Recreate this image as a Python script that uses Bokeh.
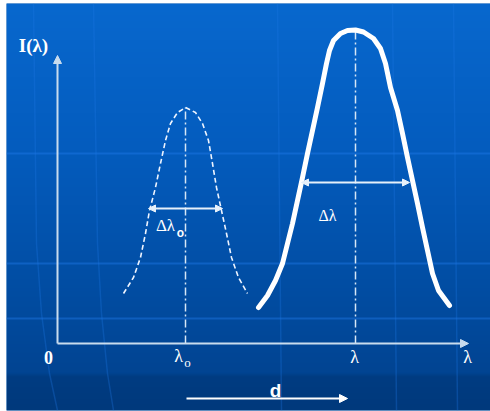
import numpy as np
from bokeh.plotting import figure
from bokeh.models import Range1d, Arrow, NormalHead
from bokeh.core.properties import value
from bokeh.embed import file_html
from bokeh.resources import INLINE

# ---- data (axis origin at 0,0) ----
lam0 = 128          # position of lambda_o
lam = 298           # position of lambda
x_axis_end = 411
y_axis_end = 288

# narrow (reference) line, dashed
small_x = [66, 76, 83, 88, 92, 98, 103, 108, 113, 120, 128,
           138, 145, 151, 155, 159, 164, 169, 174, 181, 190]
small_y = [50, 66, 86, 110, 133, 156, 180, 203, 220, 231, 236,
           231, 220, 203, 180, 156, 133, 110, 86, 66, 50]

# broadened line, thick
big_x = [201, 210, 218, 225, 230, 235, 240, 245, 250, 255, 260, 265, 269, 272, 276, 283, 290,
         298, 306, 316, 323, 328, 333, 340, 345, 350, 355, 360, 365, 370, 375, 381, 392]
big_y = [36, 48, 63, 80, 100, 120, 143, 166, 190, 213, 236, 260, 280, 293, 303, 310, 313,
         313.5, 311.5, 305, 295, 280, 256, 233, 210, 186, 163, 140, 116, 93, 70, 53, 38]

# widths (arrows)
dl0_y, dl0_x0, dl0_x1 = 135, 91, 165
dl_y, dl_x0, dl_x1 = 161, 244, 352
d_y, d_x0, d_x1 = -55, 129, 290

# labels
tick_x = [-9, 297, 410]
tick_labels = ["0", "λ", "λ"]

# background decoration
hgrid_y = [190, 80, 25]
vgrid_x = [220, 335, 396]

X0, X1, Y0, Y1 = -51, 433, -67, 340
W, H = X1 - X0, Y1 - Y0

p = figure(width=490, height=411, x_range=Range1d(X0, X1), y_range=Range1d(Y0, Y1),
           output_backend="svg", toolbar_location=None,
           min_border_left=6, min_border_top=3, min_border_right=0, min_border_bottom=1,
           x_axis_location=None, y_axis_location=None)
p.grid.visible = False
p.outline_line_color = None
p.background_fill_color = "#0458B0"
p.border_fill_color = "white"

# gradient background
ys = Y0 + np.arange(H) + 0.5
ref = 343 - ys
stops = [3, 150, 260, 372, 376, 410]
r = np.interp(ref, stops, [8, 4, 2, 1, 0, 0])
g = np.interp(ref, stops, [104, 92, 80, 68, 60, 57])
b = np.interp(ref, stops, [206, 190, 168, 146, 130, 124])
img = np.empty((H, 2), dtype=np.uint32)
v = img.view(dtype=np.uint8).reshape((H, 2, 4))
v[:, :, 0] = r[:, None].astype(np.uint8)
v[:, :, 1] = g[:, None].astype(np.uint8)
v[:, :, 2] = b[:, None].astype(np.uint8)
v[:, :, 3] = 255
p.image_rgba(image=[img], x=X0, y=Y0, dw=W, dh=H)

for hy in hgrid_y:
    p.line([X0, X1], [hy, hy], line_color="#1E78E6", line_alpha=0.45, line_width=2)
for vx in vgrid_x:
    p.line([vx, vx + 4], [Y1, Y0], line_color="#1E78E6", line_alpha=0.3, line_width=1.5)
p.line([-24, -21, -16, -8, 0], [Y1, 100, 30, -30, Y0], line_color="#1E78E6", line_alpha=0.3, line_width=1.5)
p.line([36, 40, 44, 50, 56], [Y1, 100, 30, -30, Y0], line_color="#1E78E6", line_alpha=0.3, line_width=1.5)

axis_col = "#C9DCEE"
# axes with arrows
p.add_layout(Arrow(end=NormalHead(size=8, fill_color=axis_col, line_color=axis_col),
                   x_start=0, y_start=0, x_end=0, y_end=y_axis_end,
                   line_color=axis_col, line_width=2))
p.add_layout(Arrow(end=NormalHead(size=8, fill_color=axis_col, line_color=axis_col),
                   x_start=0, y_start=0, x_end=x_axis_end, y_end=0,
                   line_color=axis_col, line_width=2))

# centre lines
p.line([lam0, lam0], [0, max(small_y)], line_color="#D6E6F6", line_width=1.5, line_dash="8 3 2 3")
p.line([lam, lam], [0, max(big_y)], line_color="#D6E6F6", line_width=1.5, line_dash="8 3 2 3")

# curves
p.line(small_x, small_y, line_color="#EEF4FF", line_width=1.6, line_dash="5 3")
p.line(big_x, big_y, line_color="white", line_width=5, line_join="round", line_cap="round")

# width arrows
for (yy, a, bb) in [(dl0_y, dl0_x0, dl0_x1), (dl_y, dl_x0, dl_x1)]:
    p.add_layout(Arrow(start=NormalHead(size=7, fill_color="#E6F0FA", line_color="#E6F0FA"),
                       end=NormalHead(size=7, fill_color="#E6F0FA", line_color="#E6F0FA"),
                       x_start=a, y_start=yy, x_end=bb, y_end=yy,
                       line_color="#E6F0FA", line_width=2))
p.add_layout(Arrow(end=NormalHead(size=8, fill_color="white", line_color="white"),
                   x_start=d_x0, y_start=d_y, x_end=d_x1, y_end=d_y,
                   line_color="white", line_width=2))

serif = value("Liberation Serif")
sans = value("Liberation Sans")
common = dict(text_color="white", text_align="center", text_baseline="middle")

p.text(x=[-24], y=[298], text=["I(λ)"], text_font=serif, text_font_size="19px",
       text_font_style="bold", **common)
p.text(x=[tick_x[0]], y=[-14], text=[tick_labels[0]], text_font=serif, text_font_size="18px",
       text_font_style="bold", **common)
p.text(x=tick_x[1:], y=[-13, -13], text=tick_labels[1:], text_font=serif,
       text_font_size="18px", **common)
p.text(x=[lam0 - 7], y=[-12], text=["λ"], text_font=serif, text_font_size="18px", **common)
p.text(x=[lam0 + 2], y=[-19], text=["o"], text_font=serif, text_font_size="13px", **common)
p.text(x=[108], y=[118], text=["Δλ"], text_font=serif, text_font_size="17px", **common)
p.text(x=[123], y=[111], text=["o"], text_font=sans, text_font_size="12px",
       text_font_style="bold", **common)
p.text(x=[270], y=[128], text=["Δλ"], text_font=serif, text_font_size="16px", **common)
p.text(x=[218], y=[-47], text=["d"], text_font=sans, text_font_size="19px",
       text_font_style="bold", **common)

open("out.html", "w").write(file_html(p, INLINE))
